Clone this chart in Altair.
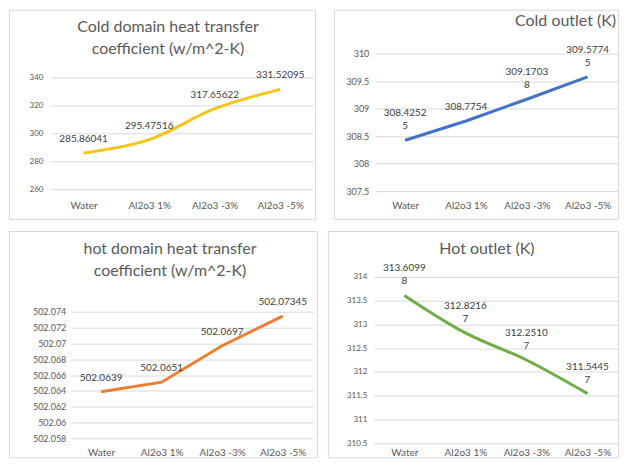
import altair as alt
import pandas as pd

categories = ["Water", "Al2o3 1%", "Al2o3 -3%", "Al2o3 -5%"]

cold_htc = [285.86041, 295.47516, 317.65622, 331.52095]
cold_htc_ticks = [260, 280, 300, 320, 340]

cold_outlet = [308.42525, 308.7754, 309.17038, 309.57745]
cold_outlet_ticks = [307.5, 308, 308.5, 309, 309.5, 310]

hot_htc = [502.0639, 502.0651, 502.0697, 502.07345]
hot_htc_ticks = [502.058, 502.06, 502.062, 502.064, 502.066, 502.068, 502.07, 502.072, 502.074]

hot_outlet = [313.60998, 312.82167, 312.25107, 311.54457]
hot_outlet_ticks = [310.5, 311, 311.5, 312, 312.5, 313, 313.5, 314]

FONT = "Lato"
GRAY = "#595959"


def split_label(v, width):
    s = str(v)
    if width and len(s) > width:
        return s[:width], s[width:]
    return "", s


def panel(values, ticks, title, color, w, h, x_rng, y_rng, ylab_off, xaxis_y,
          wrap, interp, t_off, t_dx, t_anchor="middle", tick_fs=9):
    df = pd.DataFrame({"category": categories, "value": values})
    parts = [split_label(v, wrap) for v in values]
    df["top_line"] = [p[0] for p in parts]
    df["bottom_line"] = [p[1] for p in parts]
    base = alt.Chart(df).encode(
        x=alt.X("category:N", sort=categories,
                scale=alt.Scale(type="point", range=x_rng, padding=0.5),
                axis=alt.Axis(title=None, labelAngle=0, domain=False, ticks=False,
                              grid=False, labelPadding=2, offset=-(h - xaxis_y),
                              labelFontSize=10, labelColor=GRAY, labelFont=FONT)),
        y=alt.Y("value:Q",
                scale=alt.Scale(domain=[ticks[0], ticks[-1]], range=y_rng, nice=False, zero=False),
                axis=alt.Axis(title=None, values=ticks, domain=False, ticks=False, grid=True,
                              gridColor="#D9D9D9", gridWidth=1, offset=-ylab_off,
                              labelPadding=2, labelExpr="'' + datum.value",
                              labelFontSize=tick_fs, labelColor=GRAY, labelFont=FONT)),
    )
    line = base.mark_line(color=color, strokeWidth=3, interpolate=interp)
    text_bottom = base.mark_text(baseline="bottom", dy=-9, fontSize=10, font=FONT,
                                 color="#404040").encode(text="bottom_line:N")
    text_top = base.mark_text(baseline="bottom", dy=-22, fontSize=10, font=FONT,
                              color="#404040").encode(text="top_line:N")
    return alt.layer(line, text_bottom, text_top).properties(
        width=w, height=h,
        title=alt.TitleParams(text=title, font=FONT, fontSize=16, fontWeight="normal",
                              color=GRAY, baseline="top", offset=t_off, dx=t_dx,
                              anchor=t_anchor, lineHeight=22),
    )


tl = panel(cold_htc, cold_htc_ticks,
           ["Cold domain heat transfer", "coefficient  (w/m^2-K)"], "#F5C518",
           307, 210, [42, 305], [180, 68], 36, 189.5, None, "catmull-rom", -47, 6, tick_fs=8)
tr = panel(cold_outlet, cold_outlet_ticks, "Cold outlet (K)", "#4472C4",
           285, 210, [41, 285], [182, 44], 37, 189, 8, "linear", -19, -2, "end")
bl = panel(hot_htc, hot_htc_ticks,
           ["hot domain heat transfer", "coefficient (w/m^2-K)"], "#ED7D31",
           309, 227, [62, 305], [208, 81], 59, 215.5, None, "linear", -48, 7)
br = panel(hot_outlet, hot_outlet_ticks, "Hot outlet (K)", "#70AD47",
           291, 227, [46, 291], [213, 46], 41, 215.5, 8, "catmull-rom", -26, 14, tick_fs=8)

chart = alt.vconcat(
    alt.hconcat(tl, tr, spacing=17),
    alt.hconcat(bl, br, spacing=9),
    spacing=10,
).properties(padding=0, background="white").configure_view(
    stroke="#D9D9D9", strokeWidth=1
)

chart.save("out.html", embed_options={"renderer": "svg", "actions": False})
